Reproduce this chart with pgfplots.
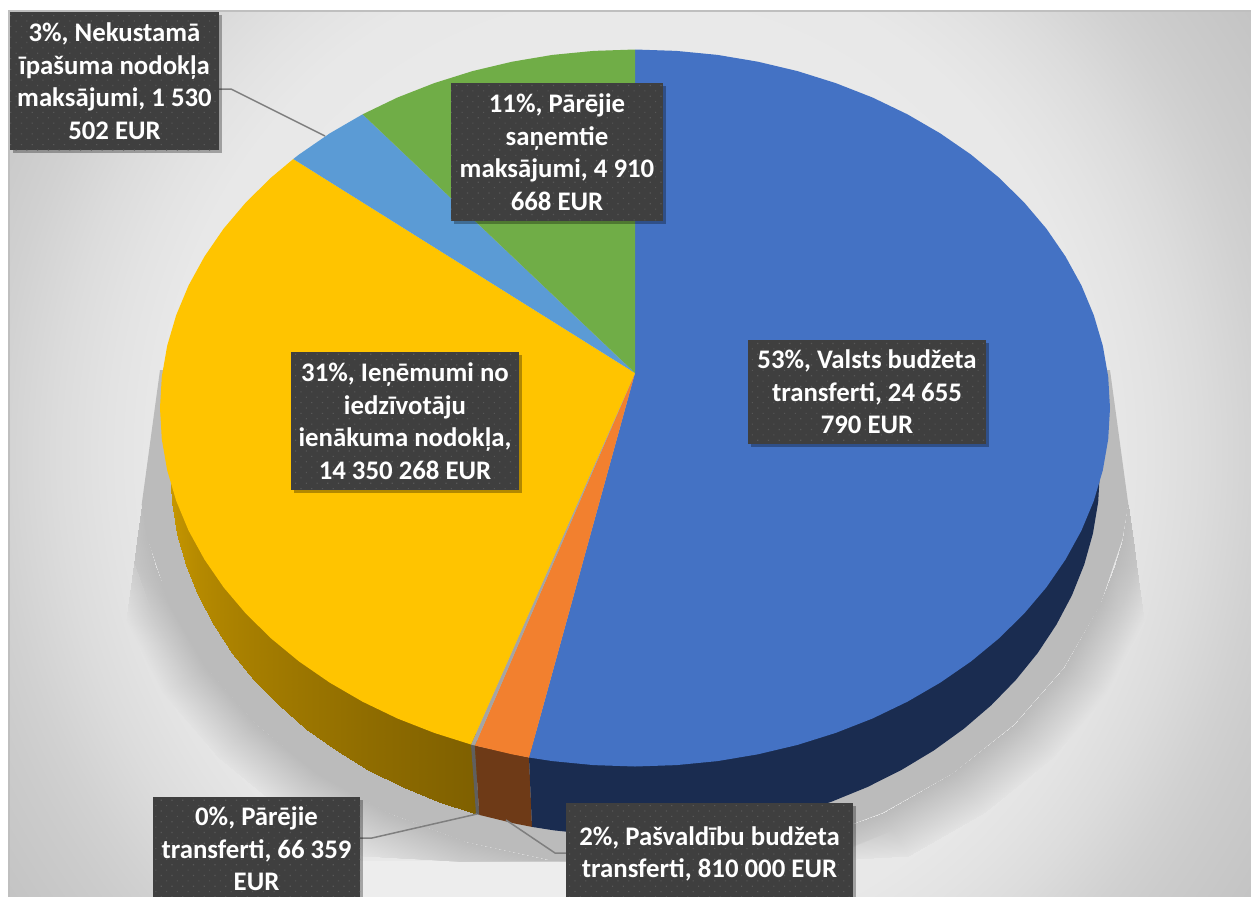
\documentclass[border=0pt]{standalone}
\usepackage{fontspec}
\setmainfont{Carlito}
\usepackage{pgfplots}
\pgfplotsset{compat=1.18}
\usetikzlibrary{patterns.meta,shadows}

\pgfdeclareradialshading{bgfade}{\pgfpoint{0bp}{0bp}}{%
  color(0bp)=(rgb:black,0.067;white,0.933);
  color(19bp)=(rgb:black,0.09;white,0.91);
  color(21bp)=(rgb:black,0.11;white,0.89);
  color(23bp)=(rgb:black,0.137;white,0.863);
  color(25.5bp)=(rgb:black,0.18;white,0.82);
  color(27bp)=(rgb:black,0.2;white,0.8);
  color(30bp)=(rgb:black,0.23;white,0.77);
  color(50bp)=(rgb:black,0.247;white,0.753)}

\definecolor{cblue}{HTML}{4472C4}
\definecolor{corange}{HTML}{F2802F}
\definecolor{cgrey}{HTML}{A5A5A5}
\definecolor{cyellow}{HTML}{FFC400}
\definecolor{clblue}{HTML}{5B9BD5}
\definecolor{cgreen}{HTML}{70AD47}
\definecolor{sblue}{HTML}{1A2C50}
\definecolor{sorange}{HTML}{6E3A17}
\definecolor{sgrey}{HTML}{5F5F5F}
\definecolor{boxgray}{HTML}{3F3F3F}
\definecolor{dotgray}{HTML}{585858}
\definecolor{leader}{HTML}{7F7F7F}
\definecolor{shadowgray}{HTML}{BBBBBB}

\tikzset{
  lab/.style={
    fill=boxgray, text=white, inner sep=0pt, align=center,
    font=\fontsize{26.8}{32.5}\selectfont\bfseries,
    drop shadow={shadow xshift=3pt, shadow yshift=-3pt, opacity=.3, fill=black},
    postaction={pattern={Dots[distance=7.6pt, angle=45, radius=0.8pt]}, pattern color=dotgray}
  }
}

\begin{document}
\begin{tikzpicture}
\path[use as bounding box, clip] (0,0) rectangle (1251pt,897pt);
\begin{axis}[
    at={(0pt,0pt)}, anchor=south west,
    scale only axis, width=1251pt, height=897pt,
    xmin=0, xmax=1251, ymin=0, ymax=897,
    y dir=reverse,
    hide axis, no markers,
    point meta min=0, point meta max=1,
    piece/.style={draw=none, fill=#1, forget plot},
]
% background, taller than the page so that the fade runs mostly sideways
\addplot[forget plot, draw=none, shade, shading=bgfade] coordinates {(9,-200)(1251,-200)(1251,1106)(9,1106)} --cycle;
\addplot[piece=white] coordinates {(0,0)(1251,0)(1251,10)(0,10)} --cycle;
\addplot[forget plot, draw=black!25, line width=2pt] coordinates {(9,897)(9,10.5)(1251,10.5)};
\addplot[piece={black!7}] coordinates {(360,861)(566,861)(566,897)(360,897)} --cycle;

% shadow under the pie: soft ring, then the dark core
\addplot[surf, shader=interp, forget plot, mesh/cols=3,
    colormap={shd}{rgb255=(187,187,187) rgb255=(226,226,226)},
    point meta=\thisrow{c}] table {
x y c
141.7 504.5 0
141.7 504.5 0.05
141.7 504.5 0.1
147.5 538.8 0
136.9 540 0.15
136.9 540 0.2
154.7 565.8 0
133.7 563.6 0.25
133.7 563.6 0.4
169.8 605.4 0
151 612.3 0.4
125.7 622 1
206.3 668 0
189 678 0.4
163 693 1
255.8 724.5 0
240.5 737.4 0.4
217.5 756.7 1
316.8 773.3 0
304 788.7 0.4
284.7 811.6 1
387.5 812.9 0
377.5 830.3 0.4
362.5 856.2 1
465.7 842.1 0
459 861 0.4
448.6 861 1
549.1 860 0
549 861 0.4
549 861 1
720.9 860 0
721 861 0.4
721 861 1
804.3 842.1 0
811 861 0.4
821.4 861 1
882.5 812.9 0
892.5 830.3 0.4
907.5 856.2 1
953.2 773.3 0
966 788.7 0.4
985.3 811.6 1
1014.2 724.5 0
1029.5 737.4 0.4
1052.5 756.7 1
1063.7 668 0
1081 678 0.4
1107 693 1
1100.2 605.4 0
1119 612.3 0.4
1144.3 622 1
1115.3 565.8 0
1136.3 563.6 0.25
1136.3 563.6 0.4
1122.5 538.8 0
1133.1 540 0.15
1133.1 540 0.2
1128.3 504.5 0
1128.3 504.5 0.05
1128.3 504.5 0.1
};
\addplot[piece=shadowgray] coordinates {(160,370)(141.7,504.5)(147.5,538.8)(169.8,605.4)(206.3,668)(255.8,724.5)(316.8,773.3)(387.5,812.9)(465.7,842.1)(549.1,860)(560,861)(710,861)(720.9,860)(804.3,842.1)(882.5,812.9)(953.2,773.3)(1014.2,724.5)(1063.7,668)(1100.2,605.4)(1122.5,538.8)(1128.3,504.5)(1110,370)} --cycle;

% side of the yellow slice, darkening towards the front
\addplot[surf, shader=interp, forget plot, mesh/cols=2,
    colormap={yel}{rgb255=(204,155,0) rgb255=(127,96,0)},
    point meta=\thisrow{c}] table {
x y c
170.0 470.0 0.00
170.0 390.0 0.00
171.8 501.9 0.07
171.8 421.9 0.07
177.1 533.6 0.14
177.1 453.6 0.14
185.8 564.7 0.21
185.8 484.7 0.21
198.0 595.2 0.29
198.0 515.2 0.29
213.6 624.7 0.36
213.6 544.7 0.36
232.3 653.0 0.43
232.3 573.0 0.43
254.1 679.9 0.50
254.1 599.9 0.50
278.8 705.3 0.57
278.8 625.3 0.57
306.2 728.8 0.64
306.2 648.8 0.64
336.1 750.4 0.71
336.1 670.4 0.71
368.3 769.8 0.79
368.3 689.8 0.79
402.5 787.0 0.86
402.5 707.0 0.86
438.5 801.7 0.93
438.5 721.7 0.93
476.0 813.9 1.00
476.0 733.9 1.00
};

% remaining sides
\addplot[piece=sgrey] coordinates {(471,744.5)(476,813.9)(479.3,814.9)(474.9,745.5)} --cycle;
\addplot[piece=sorange] coordinates {(474.9,745.5)(479.3,814.9)(514.7,823.5)(532,826.9)(529,757.5)} --cycle;
\addplot[piece=sblue] coordinates {(529,757.5)(532,826.9)(554.3,830.4)(594.5,834.6)(635,836)(675.5,834.6)(715.7,830.4)(755.3,823.5)(794,813.9)(831.5,801.7)(867.5,787)(901.7,769.8)(933.9,750.4)(963.8,728.8)(991.2,705.3)(1015.9,679.9)(1037.7,653)(1056.4,624.7)(1072,595.2)(1084.2,564.7)(1092.9,533.6)(1098.2,501.9)(1100,470)(1000,400)(635,400)} --cycle;

% top face
\addplot[piece=cblue] coordinates {(635,373)(529,757.5)(552.5,761.1)(593.6,765.1)(635,766.5)(676.4,765.1)(717.5,761.1)(757.9,754.3)(797.5,744.9)(835.7,732.9)(872.5,718.5)(907.4,701.7)(940.3,682.6)(970.9,661.5)(998.9,638.4)(1024.1,613.6)(1046.4,587.3)(1065.5,559.5)(1081.4,530.6)(1093.8,500.8)(1102.8,470.3)(1108.2,439.2)(1110,408)(1108.2,376.8)(1102.8,345.7)(1093.8,315.2)(1081.4,285.4)(1065.5,256.5)(1046.4,228.7)(1024.1,202.4)(998.9,177.6)(970.9,154.5)(940.3,133.4)(907.4,114.3)(872.5,97.5)(835.7,83.1)(797.5,71.1)(757.9,61.7)(717.5,54.9)(676.4,50.9)(635,49.5)} --cycle;
\addplot[piece=corange] coordinates {(635,373)(474.9,745.5)(512.1,754.3)(529,757.5)} --cycle;
\addplot[piece=cgrey] coordinates {(635,373)(471,744.5)(474.9,745.5)} --cycle;
\addplot[piece=cyellow] coordinates {(635,373)(293.3,159)(271.1,177.6)(245.9,202.4)(223.6,228.7)(204.5,256.5)(188.6,285.4)(176.2,315.2)(167.2,345.7)(161.8,376.8)(160,408)(161.8,439.2)(167.2,470.3)(176.2,500.8)(188.6,530.6)(204.5,559.5)(223.6,587.3)(245.9,613.6)(271.1,638.4)(299.1,661.5)(329.7,682.6)(362.6,701.7)(397.5,718.5)(434.3,732.9)(471,744.5)} --cycle;
\addplot[piece=clblue] coordinates {(635,373)(362.6,114.3)(329.7,133.4)(299.1,154.5)(293.3,159)} --cycle;
\addplot[piece=cgreen] coordinates {(635,373)(635,49.5)(593.6,50.9)(552.5,54.9)(512.1,61.7)(472.5,71.1)(434.3,83.1)(397.5,97.5)(362.6,114.3)} --cycle;

% leader lines
\addplot[forget plot, draw=leader, line width=1.5pt] coordinates {(219,89)(231,89)(325,136)};
\addplot[forget plot, draw=leader, line width=1.5pt] coordinates {(360,838)(372,838)(477,814)};
\addplot[forget plot, draw=leader, line width=1.5pt] coordinates {(566,853)(555,853)(506,820)};

% data labels
\node[lab, minimum width=209pt, minimum height=138pt] at (axis cs:114.5,81) {3\%, Nekustamā\\īpašuma nodokļa\\maksājumi, 1 530\\502 EUR};
\node[lab, minimum width=212pt, minimum height=138pt] at (axis cs:557,152) {11\%, Pārējie\\saņemtie\\maksājumi, 4 910\\668 EUR};
\node[lab, minimum width=238pt, minimum height=104pt] at (axis cs:867,392) {53\%, Valsts budžeta\\transferti, 24 655\\790 EUR};
\node[lab, minimum width=228pt, minimum height=138pt] at (axis cs:405,421) {31\%, Ieņēmumi no\\iedzīvotāju\\ienākuma nodokļa,\\14 350 268 EUR};
\node[lab, minimum width=207pt, minimum height=104pt] at (axis cs:256.5,849) {0\%, Pārējie\\transferti, 66 359\\EUR};
\node[lab, minimum width=287pt, minimum height=102pt] at (axis cs:709.5,854) {2\%, Pašvaldību budžeta\\transferti, 810 000 EUR};
\end{axis}
\end{tikzpicture}
\end{document}
